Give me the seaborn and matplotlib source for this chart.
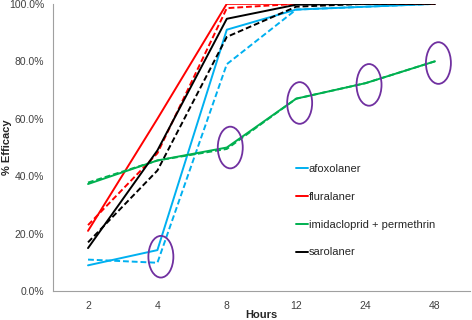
import seaborn as sns
import matplotlib.pyplot as plt
import pandas as pd
from matplotlib.patches import Ellipse

hours = ['2', '4', '8', '12', '24', '48']
drugs = ['afoxolaner', 'fluralaner', 'imidacloprid + permethrin', 'sarolaner']
colors = ['#00B0F0', '#FF0000', '#00B050', '#000000']

# solid lines
afox_solid = [9.0, 14.3, 91.0, 98.0, 99.0, 100.0]
flur_solid = [21.0, 60.0, 100.0, 100.0, 100.0, 100.0]
imid_solid = [37.3, 45.5, 50.0, 67.0, 72.4, 80.0]
saro_solid = [15.0, 49.0, 94.8, 99.7, 100.0, 100.0]
# dashed lines
afox_dash = [11.0, 9.9, 79.0, 98.0, 99.0, 100.0]
flur_dash = [23.0, 48.0, 98.5, 100.0, 100.0, 100.0]
imid_dash = [37.8, 45.5, 49.5, 67.0, 72.4, 80.0]
saro_dash = [17.0, 42.0, 88.5, 99.0, 100.0, 100.0]

# circled points: (hour index, % efficacy)
circle_hours = [1, 2, 3, 4, 5]
circle_vals = [12.0, 50.0, 65.5, 71.8, 79.4]

solid = [afox_solid, flur_solid, imid_solid, saro_solid]
dash = [afox_dash, flur_dash, imid_dash, saro_dash]

rows = []
for d, s, ds in zip(drugs, solid, dash):
    for i, h in enumerate(hours):
        rows.append({'drug': d, 'kind': 'a', 'x': i, 'y': s[i]})
        rows.append({'drug': d, 'kind': 'b', 'x': i, 'y': ds[i]})
df = pd.DataFrame(rows)

sns.set_style('white')
plt.rcParams['font.family'] = ['Liberation Sans', 'DejaVu Sans']

fig, ax = plt.subplots(figsize=(4.72, 3.2), dpi=100)
fig.subplots_adjust(left=0.113, right=0.995, top=0.988, bottom=0.09)

sns.lineplot(data=df, x='x', y='y', hue='drug', style='kind',
             palette=dict(zip(drugs, colors)), dashes={'a': '', 'b': (3, 1.5)},
             hue_order=drugs, linewidth=1.4, ax=ax, legend=False)

for xi, yv in zip(circle_hours, circle_vals):
    ax.add_patch(Ellipse((xi + 0.05, yv), 0.36, 14.5, fill=False,
                         edgecolor='#7030A0', linewidth=1.3, zorder=5))

ax.set_xlim(-0.5, 5.5)
ax.set_ylim(0, 100)
ax.set_xticks(range(len(hours)))
ax.set_xticklabels(hours)
ax.set_xticks([i + 0.5 for i in range(-1, 6)], minor=True)
ax.tick_params(axis='x', which='major', length=0, labelsize=7.5, colors='#404040', pad=7)
ax.tick_params(axis='x', which='minor', length=3, color='#A0A0A0', direction='out')
ax.set_yticks([0, 20, 40, 60, 80, 100])
ax.set_yticklabels([f'{v:.1f}%' for v in [0, 20, 40, 60, 80, 100]])
ax.tick_params(axis='y', length=3, labelsize=7.5, color='#A0A0A0', direction='out')
for t in ax.get_yticklabels():
    t.set_color('#404040')

for side in ['top', 'right']:
    ax.spines[side].set_visible(False)
for side in ['left', 'bottom']:
    ax.spines[side].set_color('#A0A0A0')
    ax.spines[side].set_linewidth(0.8)

ax.set_xlabel('Hours', fontsize=8, fontweight='bold', va='center')
ax.xaxis.set_label_coords(0.5, -0.084)
ax.set_ylabel('% Efficacy', fontsize=8, fontweight='bold')
ax.yaxis.set_label_coords(-0.1, 0.5)

handles = [plt.Line2D([], [], color=c, lw=1.4) for c in colors]
ax.legend(handles, drugs, loc='center left', bbox_to_anchor=(0.56, 0.28),
          frameon=False, fontsize=8, handlelength=1.0, handletextpad=0.1,
          labelspacing=1.6)

fig.savefig('out.png', dpi=100)
